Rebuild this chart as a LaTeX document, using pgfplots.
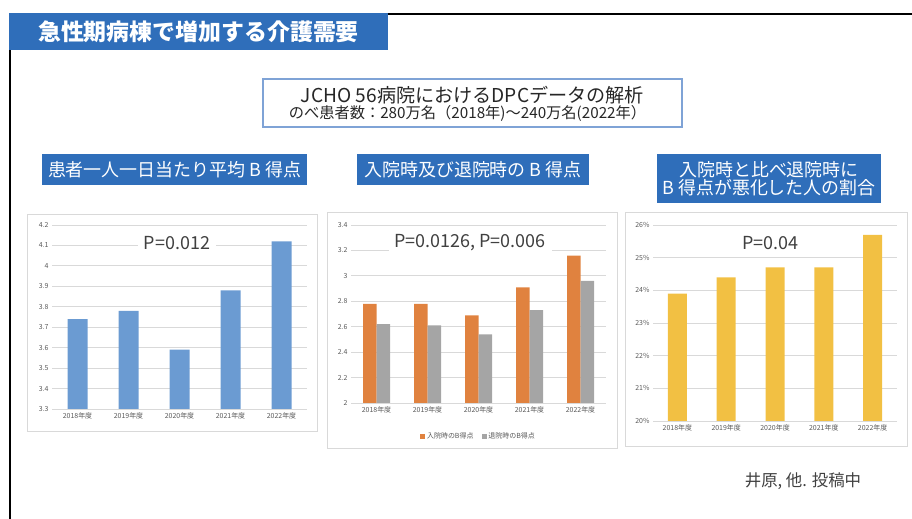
\documentclass[border=0pt]{standalone}
\usepackage{pgfplots}
\pgfplotsset{compat=1.18}
\usepackage{fontspec}
\setmainfont{Noto Sans CJK JP}
\definecolor{boxblue}{HTML}{2F6EBA}
\definecolor{subborder}{HTML}{7FA3D6}
\definecolor{panelgray}{HTML}{D9D9D9}
\definecolor{gridgray}{HTML}{D9D9D9}
\definecolor{labelgray}{HTML}{595959}
\definecolor{ptext}{HTML}{404040}
\definecolor{barblue}{HTML}{6B9BD2}
\definecolor{barorange}{HTML}{E0823F}
\definecolor{bargray}{HTML}{A5A5A5}
\definecolor{baryellow}{HTML}{F2C043}
\pgfplotsset{
  panel/.style={
    scale only axis,
    axis x line*=bottom, axis y line*=left,
    x axis line style={draw=gridgray,-},
    y axis line style={draw=none},
    major tick length=0pt,
    ymajorgrids, grid style={gridgray, line width=0.8bp},
    enlargelimits=false,
    xmin=-0.5, xmax=4.5,
    xtick={0,1,2,3,4},
    xticklabels={2018年度,2019年度,2020年度,2021年度,2022年度},
    tick label style={font=\fontsize{7}{8}\selectfont, text=labelgray},
    /pgf/number format/assume math mode=true,
    ybar, 
  },
}
\tikzset{pnode/.style={fill=white, text=ptext, font=\fontsize{18}{20}\selectfont, inner xsep=6bp, inner ysep=1bp}}
\begin{document}
\begin{tikzpicture}
\begin{scope}[x=1bp,y=1bp]
\path[use as bounding box] (0,0) rectangle (912,519);
% frame lines
\draw[black, line width=1.8bp] (388,505) -- (912,505);
\draw[black, line width=1.8bp] (10,505.9) -- (10,0);
% main title
\fill[boxblue] (9,506) rectangle (388,469);
\node[text=white, font=\fontsize{23}{25}\selectfont\bfseries] at (198.5,487.5) {急性期病棟で増加する介護需要};
% subtitle
\draw[subborder, line width=1.2bp] (263,440) rectangle (682,392);
\node[text=black!85, font=\fontsize{19.2}{21}\selectfont] at (472.5,424) {JCHO 56病院におけるDPCデータの解析};
\node[text=black!85, font=\fontsize{15.3}{17}\selectfont] at (467.5,406) {のべ患者数：280万名（2018年)～240万名(2022年）};
% panel title boxes
\fill[boxblue] (42,365) rectangle (307,334);
\node[text=white, font=\fontsize{18}{20}\selectfont] at (174.5,349.5) {患者一人一日当たり平均 B 得点};
\fill[boxblue] (357,365) rectangle (589,334);
\node[text=white, font=\fontsize{18}{20}\selectfont] at (473,349.5) {入院時及び退院時の B 得点};
\fill[boxblue] (657,365) rectangle (881,316);
\node[text=white, font=\fontsize{18}{20}\selectfont] at (769,349) {入院時と比べ退院時に};
\node[text=white, font=\fontsize{18}{20}\selectfont] at (769,331) {B 得点が悪化した人の割合};
% panel borders
\draw[panelgray, line width=1bp] (27,304) rectangle (317,87);
\draw[panelgray, line width=1bp] (327,306) rectangle (617,70);
\draw[panelgray, line width=1bp] (625,306) rectangle (907,72);
% citation
\node[text=ptext, font=\fontsize{16.5}{18}\selectfont] at (803,38) {井原, 他. 投稿中};
\end{scope}

% panel 1
\begin{axis}[panel, at={(52bp,110bp)}, anchor=south west, width=255bp, height=184bp,
  ymin=3.3, ymax=4.2, ytick={3.3,3.4,3.5,3.6,3.7,3.8,3.9,4,4.1,4.2},
  yticklabels={3.3,3.4,3.5,3.6,3.7,3.8,3.9,4,4.1,4.2},
  bar width=20bp]
\addplot[fill=barblue, draw=none] coordinates {(0,3.74) (1,3.78) (2,3.59) (3,3.88) (4,4.12)};
\node[pnode] at (rel axis cs:0.49,0.902) {P=0.012};
\end{axis}

% panel 2
\begin{axis}[panel, at={(351bp,116bp)}, anchor=south west, width=255bp, height=178bp,
  ymin=2, ymax=3.4, ytick={2,2.2,2.4,2.6,2.8,3,3.2,3.4},
  yticklabels={2,2.2,2.4,2.6,2.8,3,3.2,3.4},
  bar width=13.5bp, ybar=0pt,
  legend columns=2,
  legend style={draw=none, at={(0.5,-0.19)}, anchor=center, font=\fontsize{7}{8}\selectfont, text=labelgray, /tikz/every even column/.append style={column sep=6bp}},
  legend image code/.code={\fill[#1] (0bp,-2.5bp) rectangle (5bp,2.5bp);}]
\addplot[fill=barorange, draw=none] coordinates {(0,2.78) (1,2.78) (2,2.69) (3,2.91) (4,3.16)};
\addplot[fill=bargray, draw=none] coordinates {(0,2.62) (1,2.61) (2,2.54) (3,2.73) (4,2.96)};
\legend{入院時のB得点, 退院時のB得点}
\node[pnode] at (rel axis cs:0.467,0.899) {P=0.0126, P=0.006};
\end{axis}

% panel 3
\begin{axis}[panel, at={(653bp,98bp)}, anchor=south west, width=244bp, height=196bp,
  ymin=20, ymax=26, ytick={20,21,22,23,24,25,26},
  yticklabels={20\%,21\%,22\%,23\%,24\%,25\%,26\%},
  bar width=19bp]
\addplot[fill=baryellow, draw=none] coordinates {(0,23.9) (1,24.4) (2,24.7) (3,24.7) (4,25.7)};
\node[pnode] at (rel axis cs:0.48,0.908) {P=0.04};
\end{axis}
\end{tikzpicture}
\end{document}
